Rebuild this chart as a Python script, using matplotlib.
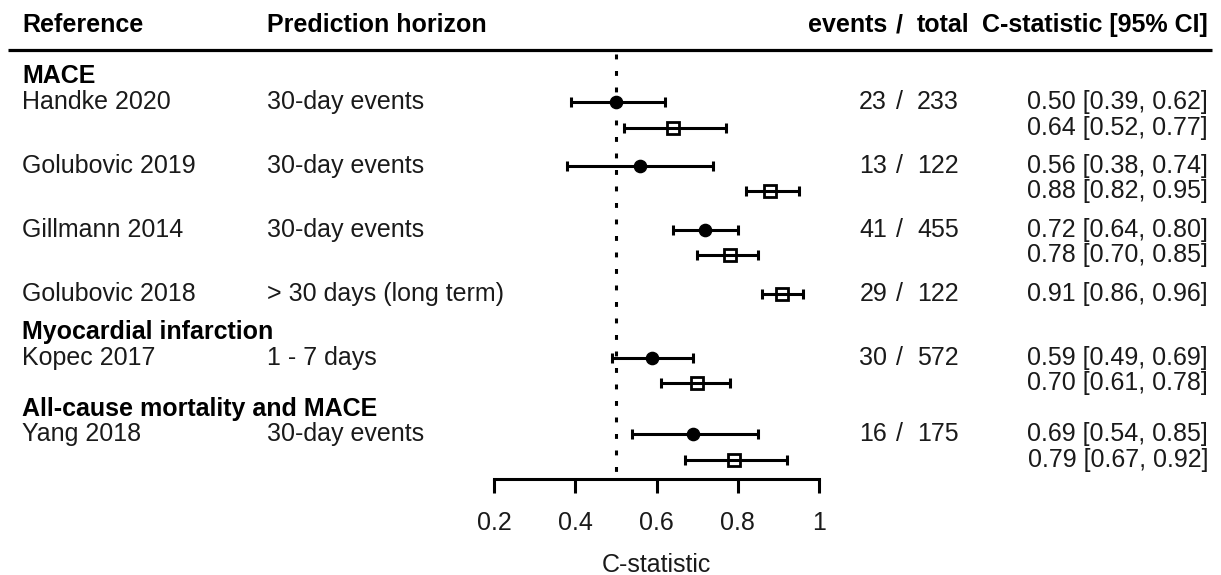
import matplotlib
matplotlib.use("Agg")
import matplotlib.pyplot as plt

plt.rcParams['font.family'] = ['Liberation Sans', 'DejaVu Sans']

# ---- data ----
groups = ["MACE", "Myocardial infarction", "All-cause mortality and MACE"]
group_rows = [0, 10, 13]

studies = ["Handke 2020", "Golubovic 2019", "Gillmann 2014", "Golubovic 2018",
           "Kopec 2017", "Yang 2018"]
horizons = ["30-day events", "30-day events", "30-day events",
            "> 30 days (long term)", "1 - 7 days", "30-day events"]
study_rows = [1, 3.5, 6, 8.5, 11, 14]
events = [23, 13, 41, 29, 30, 16]
totals = [233, 122, 455, 122, 572, 175]

# filled circles (first estimate per study; Golubovic 2018 has none)
circ_rows = [1, 3.5, 6, 11, 14]
circ_est = [0.50, 0.56, 0.72, 0.59, 0.69]
circ_lo = [0.39, 0.38, 0.64, 0.49, 0.54]
circ_hi = [0.62, 0.74, 0.80, 0.69, 0.85]

# open squares (second estimate per study)
sq_rows = [2, 4.5, 7, 8.5, 12, 15]
sq_est = [0.64, 0.88, 0.78, 0.91, 0.70, 0.79]
sq_lo = [0.52, 0.82, 0.70, 0.86, 0.61, 0.67]
sq_hi = [0.77, 0.95, 0.85, 0.96, 0.78, 0.92]

xticks = [0.2, 0.4, 0.6, 0.8, 1.0]
xtick_labels = ["0.2", "0.4", "0.6", "0.8", "1"]
ref_value = 0.5

# ---- layout ----
W, H = 1221, 575
fig = plt.figure(figsize=(W / 100, H / 100), dpi=100)
ax = fig.add_axes([0, 0, 1, 1])

X0_PX, X_SCALE = 494.0, 406.25       # pixel of 0.2 and pixels per unit
Y0_PX, Y_SCALE = 76.4, 25.57         # pixel of row 0 and pixels per row


def px2x(p):
    return 0.2 + (p - X0_PX) / X_SCALE


def px2row(p):
    return (p - Y0_PX) / Y_SCALE


ax.set_xlim(px2x(0), px2x(W))
ax.set_ylim(px2row(H), px2row(0))

FS = 18
col_ref = px2x(22)
col_hor = px2x(267)
col_ev = px2x(887)
col_sl = px2x(899)
col_tot = px2x(917)
col_ci = px2x(1208)

# header
hdr_row = -2
hkw = dict(fontsize=FS, fontweight='bold', va='center')
ax.text(col_ref, hdr_row, "Reference", ha='left', **hkw)
ax.text(col_hor, hdr_row, "Prediction horizon", ha='left', **hkw)
ax.text(col_ev, hdr_row, "events", ha='right', **hkw)
ax.text(col_sl, hdr_row, "/", ha='center', **hkw)
ax.text(col_tot, hdr_row, "total", ha='left', **hkw)
ax.text(col_ci, hdr_row, "C-statistic [95% CI]", ha='right', **hkw)
ax.plot([px2x(8), px2x(1212)], [-1.03, -1.03], color='black', lw=2.3,
        solid_capstyle='butt')

# group labels
for g, r in zip(groups, group_rows):
    ax.text(col_ref, r, g, ha='left', va='center', fontsize=FS, fontweight='bold')

# study rows
tkw = dict(fontsize=FS, va='center', color='#1a1a1a')
for s, h, r, e, t in zip(studies, horizons, study_rows, events, totals):
    ax.text(col_ref, r, s, ha='left', **tkw)
    ax.text(col_hor, r, h, ha='left', **tkw)
    ax.text(col_ev, r, str(e), ha='right', **tkw)
    ax.text(col_sl, r, "/", ha='center', **tkw)
    ax.text(col_tot, r, str(t), ha='left', **tkw)

for r, m, lo, hi in zip(circ_rows, circ_est, circ_lo, circ_hi):
    ax.text(col_ci, r, f"{m:.2f} [{lo:.2f}, {hi:.2f}]", ha='right', **tkw)
for r, m, lo, hi in zip(sq_rows, sq_est, sq_lo, sq_hi):
    ax.text(col_ci, r, f"{m:.2f} [{lo:.2f}, {hi:.2f}]", ha='right', **tkw)

# reference line
axis_row = px2row(479)
ax.plot([ref_value, ref_value], [px2row(54), axis_row - 0.1], color='black',
        lw=2.2, dashes=(1.6, 3.8), zorder=1)

# confidence intervals and point estimates
ax.errorbar(circ_est, circ_rows,
            xerr=[[m - l for m, l in zip(circ_est, circ_lo)],
                  [h - m for m, h in zip(circ_est, circ_hi)]],
            fmt='o', color='black', ms=8.8, elinewidth=2.2, capsize=3.7,
            capthick=2.2, zorder=3)
ax.errorbar(sq_est, sq_rows,
            xerr=[[m - l for m, l in zip(sq_est, sq_lo)],
                  [h - m for m, h in zip(sq_est, sq_hi)]],
            fmt='none', ecolor='black', elinewidth=2.2, capsize=3.7,
            capthick=2.2, zorder=3)
ax.plot(sq_est, sq_rows, 's', ms=9.2, mfc='none', mec='black', mew=2, zorder=4)

# x axis
for side in ['top', 'right', 'left']:
    ax.spines[side].set_visible(False)
ax.spines['bottom'].set_position(('data', axis_row))
ax.spines['bottom'].set_bounds(xticks[0], xticks[-1])
ax.spines['bottom'].set_linewidth(2.2)
ax.set_xticks(xticks)
ax.set_xticklabels(xtick_labels)
ax.tick_params(axis='x', direction='out', length=10, width=2.2, pad=13,
               labelsize=FS, labelcolor='#1a1a1a')
ax.set_yticks([])
ax.text((xticks[0] + xticks[-1]) / 2, px2row(565), "C-statistic", ha='center',
        va='center', fontsize=FS, color='#1a1a1a')

fig.savefig("out.png", dpi=100)
